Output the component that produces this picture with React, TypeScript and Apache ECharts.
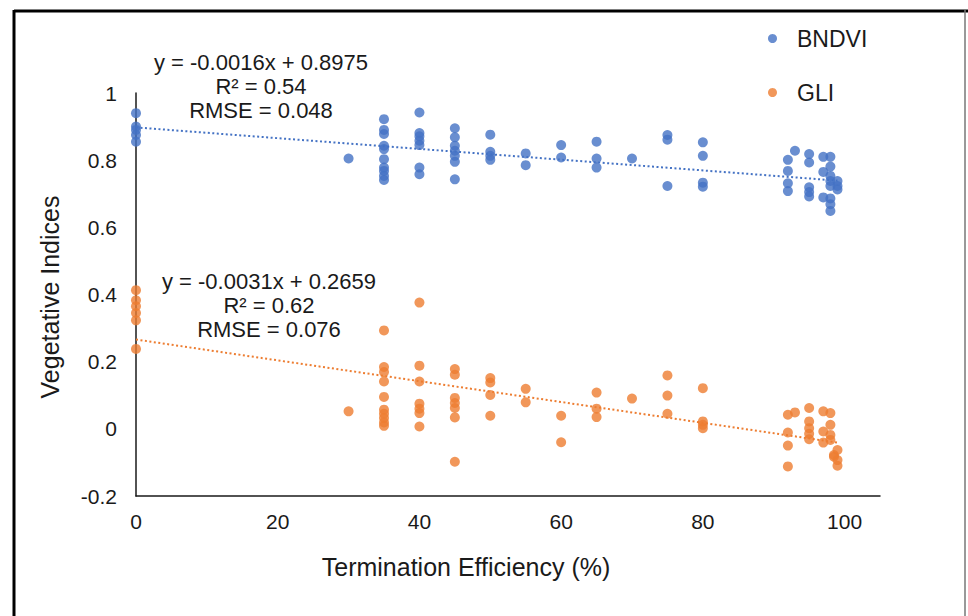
import React, { useEffect, useRef } from "react";
import * as echarts from "echarts";

// Termination efficiency (%) groups and vegetative index readings
const bndviTE = [0, 30, 35, 40, 45, 50, 55, 60, 65, 70, 75, 80, 92, 93, 95, 97, 98, 99];
const bndviValues = [
  [0.94, 0.9, 0.89, 0.875, 0.855],
  [0.805],
  [0.922, 0.89, 0.878, 0.843, 0.833, 0.803, 0.778, 0.768, 0.753, 0.741],
  [0.942, 0.881, 0.871, 0.858, 0.845, 0.778, 0.758],
  [0.895, 0.868, 0.843, 0.828, 0.813, 0.795, 0.743],
  [0.876, 0.825, 0.813, 0.801],
  [0.82, 0.785],
  [0.845, 0.808],
  [0.855, 0.805, 0.778],
  [0.805],
  [0.875, 0.861, 0.723],
  [0.853, 0.813, 0.733, 0.721],
  [0.801, 0.768, 0.731, 0.708],
  [0.828],
  [0.818, 0.793, 0.719, 0.705, 0.692],
  [0.81, 0.765, 0.689],
  [0.81, 0.781, 0.753, 0.738, 0.723, 0.686, 0.669, 0.649],
  [0.738, 0.723, 0.713],
];

const gliTE = [0, 30, 35, 40, 45, 50, 55, 60, 65, 70, 75, 80, 92, 93, 95, 97, 98, 98.5, 99];
const gliValues = [
  [0.413, 0.383, 0.365, 0.345, 0.323, 0.238],
  [0.052],
  [0.293, 0.184, 0.169, 0.141, 0.095, 0.057, 0.045, 0.032, 0.019, 0.009],
  [0.376, 0.188, 0.141, 0.075, 0.06, 0.047, 0.007],
  [0.178, 0.161, 0.092, 0.077, 0.062, 0.034, -0.098],
  [0.151, 0.138, 0.101, 0.039],
  [0.119, 0.079],
  [0.039, -0.04],
  [0.108, 0.06, 0.035],
  [0.09],
  [0.159, 0.099, 0.045],
  [0.121, 0.022, 0.012, 0.002],
  [0.042, -0.011, -0.05, -0.112],
  [0.049],
  [0.062, 0.022, 0.002, -0.015, -0.031],
  [0.052, -0.008, -0.041],
  [0.047, 0.012, -0.018, -0.033],
  [-0.078, -0.083],
  [-0.063, -0.093, -0.11],
];

// Linear trend fits
const bndviFit = { slope: -0.0016, intercept: 0.8975 };
const gliFit = { slope: -0.0031, intercept: 0.2659 };
const trendRange = [0, 99];

const bndviLabel = ["y = -0.0016x + 0.8975", "R² = 0.54", "RMSE = 0.048"];
const gliLabel = ["y = -0.0031x + 0.2659", "R² = 0.62", "RMSE = 0.076"];

const xTicks = { min: 0, max: 105, interval: 20 };
const yTicks = { min: -0.2, max: 1, interval: 0.2 };

const BLUE = "#4472C4";
const ORANGE = "#ED7D31";
const FONT = "Liberation Sans, Arial, sans-serif";

function pairs(xs: number[], groups: number[][]) {
  const out: number[][] = [];
  xs.forEach((x, i) => groups[i].forEach((v) => out.push([x, v])));
  return out;
}

function trend(fit: { slope: number; intercept: number }) {
  return trendRange.map((x) => [x, fit.intercept + fit.slope * x]);
}

export default function App() {
  const ref = useRef<HTMLDivElement>(null);

  useEffect(() => {
    if (!ref.current) return;
    const chart = echarts.init(ref.current, null, { renderer: "svg" });
    const axisLine = { show: true, onZero: false, lineStyle: { color: "#1a1a1a", width: 1.5 } };
    chart.setOption({
      animation: false,
      backgroundColor: "#ffffff",
      grid: { left: 136, right: 88, top: 93, bottom: 120 },
      legend: {
        data: ["BNDVI", "GLI"],
        orient: "vertical",
        left: 763,
        top: 22,
        itemGap: 31,
        itemWidth: 9,
        itemHeight: 9,
        icon: "circle",
        textStyle: { fontFamily: FONT, fontSize: 23, color: "#1a1a1a", padding: [0, 0, 0, 15] },
      },
      xAxis: {
        type: "value",
        min: xTicks.min,
        max: xTicks.max,
        interval: xTicks.interval,
        axisLine,
        axisTick: { show: false },
        splitLine: { show: false },
        axisLabel: {
          margin: 15,
          fontFamily: FONT,
          fontSize: 21,
          color: "#1a1a1a",
          formatter: (v: number) => (v % 20 === 0 && v <= 100 ? String(v) : ""),
        },
      },
      yAxis: {
        type: "value",
        min: yTicks.min,
        max: yTicks.max,
        interval: yTicks.interval,
        axisLine,
        axisTick: { show: false },
        splitLine: { show: false },
        axisLabel: {
          margin: 19,
          fontFamily: FONT,
          fontSize: 21,
          color: "#1a1a1a",
          formatter: (v: number) => String(Math.round(v * 10) / 10),
        },
      },
      series: [
        {
          name: "BNDVI",
          type: "scatter",
          data: pairs(bndviTE, bndviValues),
          symbolSize: 10,
          itemStyle: { color: BLUE },
          z: 3,
        },
        {
          name: "GLI",
          type: "scatter",
          data: pairs(gliTE, gliValues),
          symbolSize: 10,
          itemStyle: { color: ORANGE },
          z: 3,
        },
        {
          name: "BNDVI trend",
          type: "line",
          data: trend(bndviFit),
          showSymbol: false,
          symbol: "none",
          lineStyle: { color: BLUE, width: 2, type: [2, 2.5] },
          z: 2,
        },
        {
          name: "GLI trend",
          type: "line",
          data: trend(gliFit),
          showSymbol: false,
          symbol: "none",
          lineStyle: { color: ORANGE, width: 2, type: [2, 2.5] },
          z: 2,
        },
      ],
      graphic: [
        { type: "line", shape: { x1: 14, y1: 11, x2: 968, y2: 11 }, style: { stroke: "#000", lineWidth: 3 } },
        { type: "line", shape: { x1: 14, y1: 10, x2: 14, y2: 616 }, style: { stroke: "#000", lineWidth: 3 } },
        { type: "line", shape: { x1: 965, y1: 10, x2: 965, y2: 616 }, style: { stroke: "#777", lineWidth: 1.5 } },
        {
          type: "text",
          x: 261,
          y: 50,
          style: {
            text: bndviLabel.join("\n"),
            fontFamily: FONT,
            fontSize: 22,
            lineHeight: 24,
            fill: "#1a1a1a",
            textAlign: "center",
            textVerticalAlign: "top",
          },
        },
        {
          type: "text",
          x: 269,
          y: 269,
          style: {
            text: gliLabel.join("\n"),
            fontFamily: FONT,
            fontSize: 22,
            lineHeight: 24,
            fill: "#1a1a1a",
            textAlign: "center",
            textVerticalAlign: "top",
          },
        },
        {
          type: "text",
          x: 466,
          y: 567,
          style: {
            text: "Termination Efficiency (%)",
            fontFamily: FONT,
            fontSize: 25,
            fill: "#1a1a1a",
            textAlign: "center",
            textVerticalAlign: "middle",
          },
        },
        {
          type: "text",
          x: 50,
          y: 297,
          rotation: Math.PI / 2,
          style: {
            text: "Vegetative Indices",
            fontFamily: FONT,
            fontSize: 25,
            fill: "#1a1a1a",
            textAlign: "center",
            textVerticalAlign: "middle",
          },
        },
      ],
    });
    return () => chart.dispose();
  }, []);

  return (
    <div
      ref={ref}
      style={{ position: "fixed", left: 0, top: 0, width: 968, height: 616, background: "#fff" }}
    />
  );
}
